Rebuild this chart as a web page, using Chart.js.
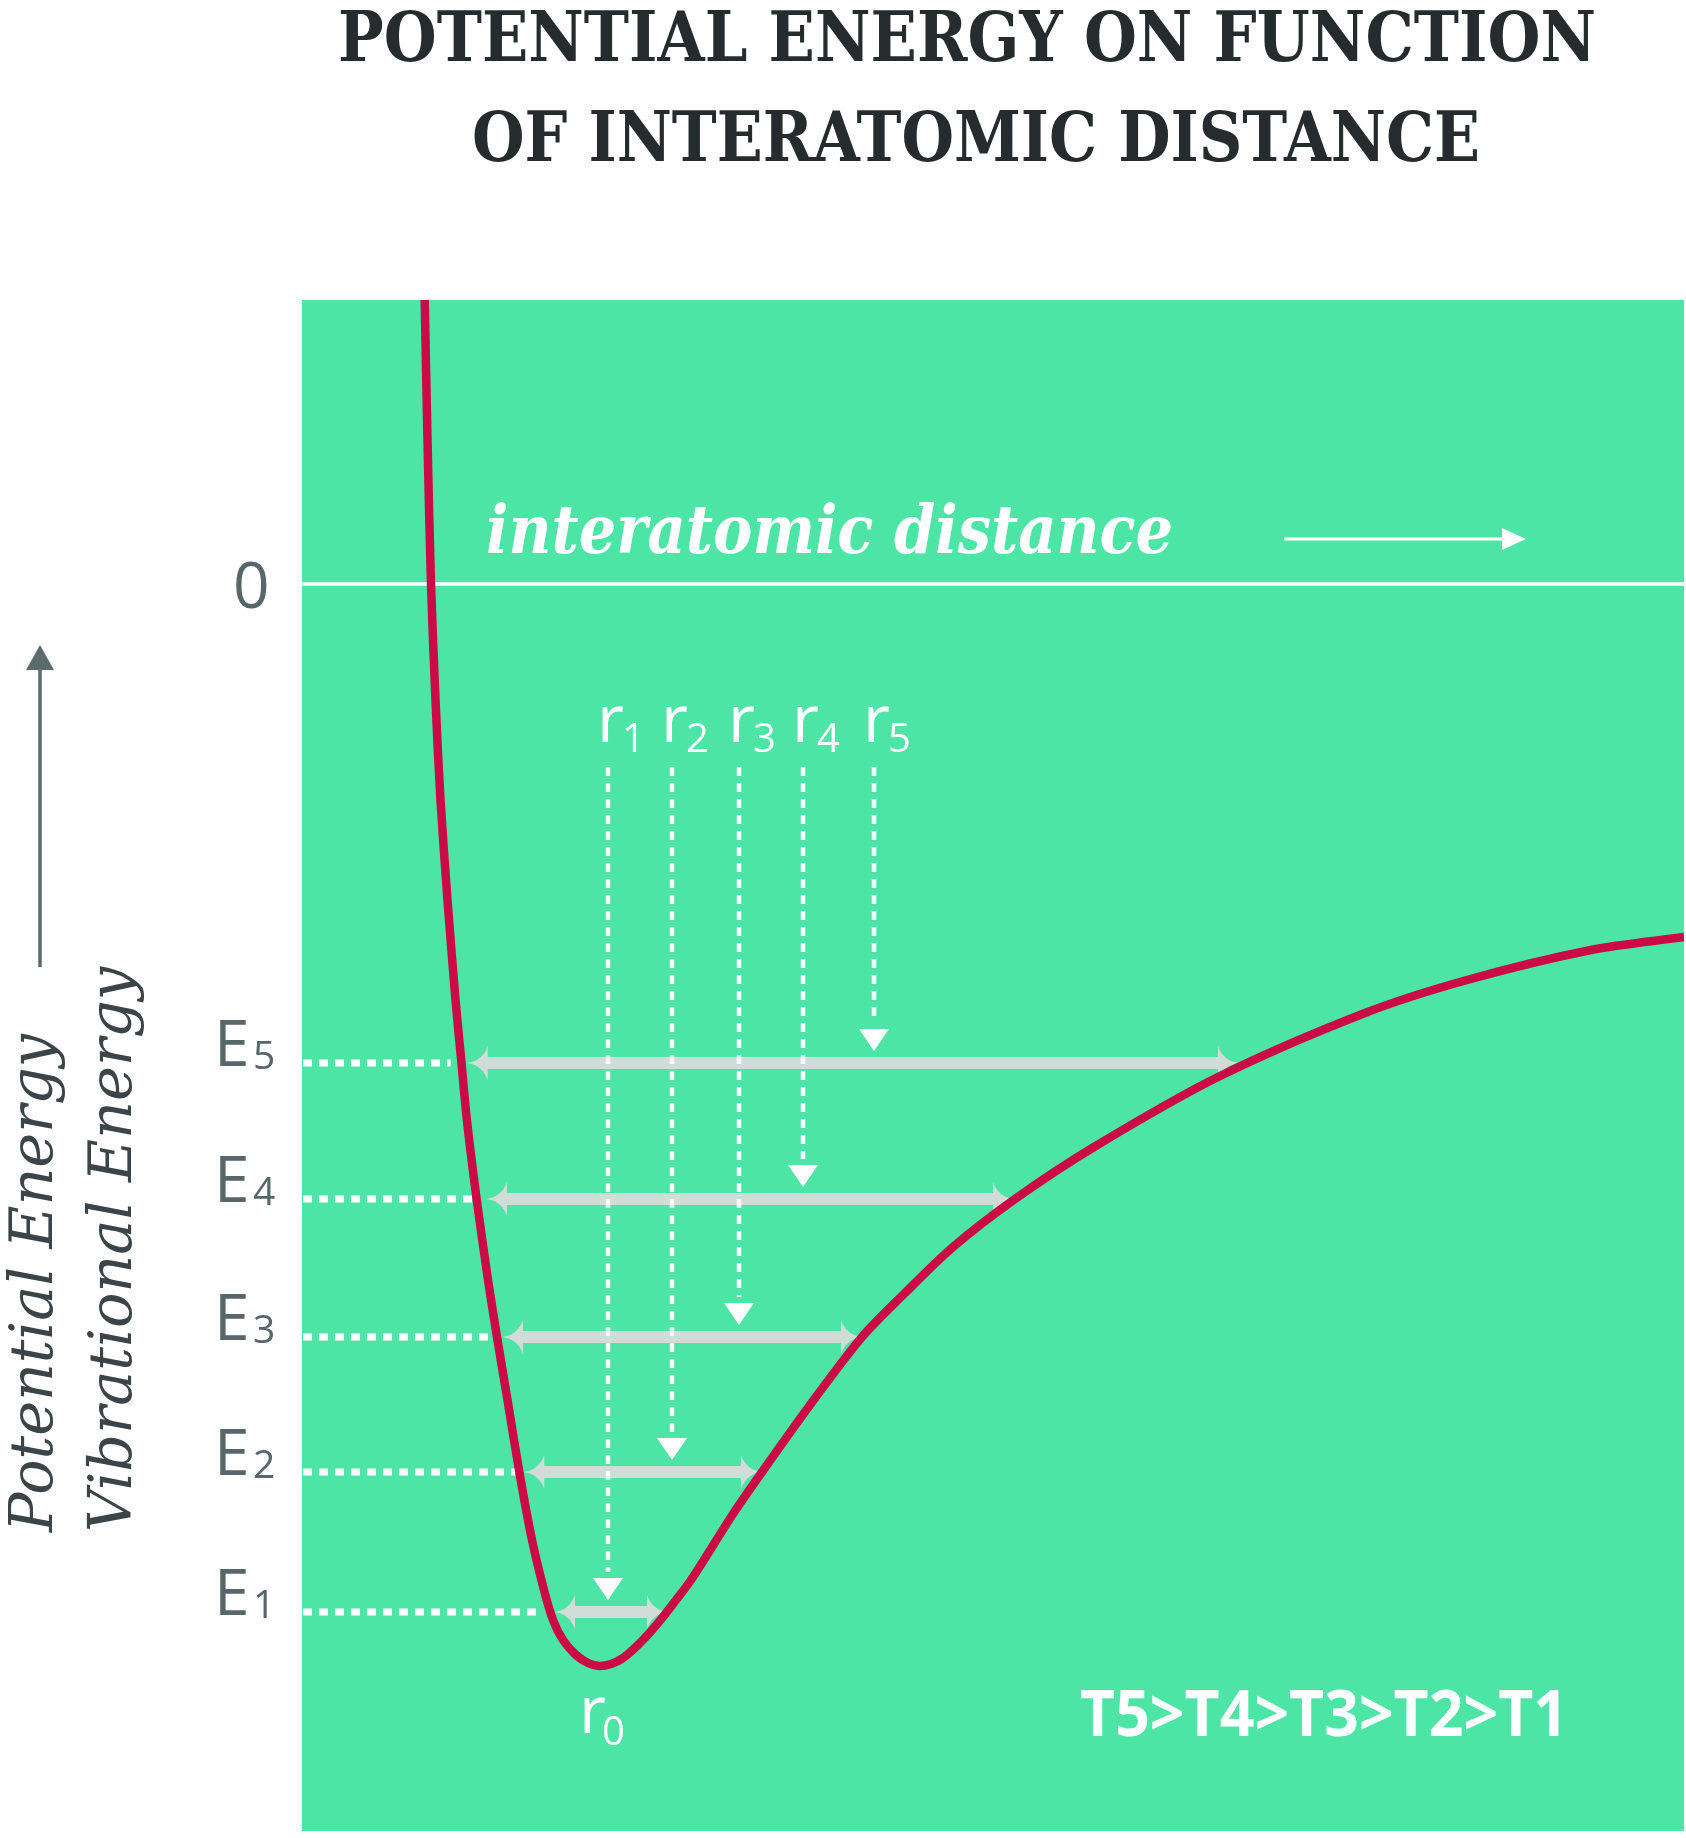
<!DOCTYPE html>
<html>
<head>
<meta charset="utf-8">
<script src="https://cdn.jsdelivr.net/npm/chart.js@4.4.0/dist/chart.umd.min.js"></script>
<style>
  html, body { margin: 0; padding: 0; background: #ffffff; }
  #chart { display: block; }
</style>
</head>
<body>
<canvas id="chart" width="1686" height="1838"></canvas>
<script>
// potential energy curve (distance / energy, arbitrary units)
const distance = [1.227, 1.255, 1.29, 1.335, 1.385, 1.455, 1.535, 1.595, 1.65, 1.745, 1.86, 1.95,
  2.055, 2.175, 2.30, 2.42, 2.51, 2.61, 2.74, 2.86, 2.97, 3.09, 3.21, 3.38, 3.56, 3.74, 3.89,
  4.31, 4.60, 5.08, 5.60, 6.03, 6.51, 7.13, 7.92, 9.16, 10.63, 11.65, 12.89, 13.82];
const energy = [2.84, 1.44, 0.00, -1.16, -2.16, -3.16, -4.16, -4.79, -5.37, -6.14, -6.96, -7.53,
  -8.16, -8.89, -9.56, -10.06, -10.36, -10.56, -10.71, -10.79, -10.82, -10.80, -10.74, -10.59, -10.39, -10.16, -9.96,
  -9.30, -8.88, -8.21, -7.53, -7.09, -6.63, -6.15, -5.63, -4.93, -4.29, -3.96, -3.66, -3.53];

// vibrational levels E1..E5
const levelNames = ['1', '2', '3', '4', '5'];
const levelEnergy = [-10.28, -8.88, -7.53, -6.15, -4.79];
const levelLeft = [2.52, 2.213, 2.00, 1.84, 1.647];
const levelRight = [3.66, 4.60, 5.60, 7.12, 9.37];
const guideEnd = [2.41, 2.13, 1.91, 1.71, 1.487];

// mean distances r1..r5 and equilibrium r0
const rNames = ['1', '2', '3', '4', '5'];
const rPos = [3.06, 3.70, 4.37, 5.01, 5.72];
const rTop = -1.83;
const r0Pos = 2.97;
const zeroEnergy = 0;

const GREEN = '#4ce5a6';
const RED = '#cc0a45';
const ARROW_GRAY = '#d1dbd8';
const LABEL_GRAY = '#56666a';

function grayArrowHead(ctx, tipX, y, dir) {
    // dir = 1: tip on the left, -1: tip on the right
    const L = 21, H = 17;
    ctx.beginPath();
    ctx.moveTo(tipX, y);
    ctx.quadraticCurveTo(tipX + dir * L * 0.75, y - H * 0.12, tipX + dir * L, y - H);
    ctx.lineTo(tipX + dir * L, y + H);
    ctx.quadraticCurveTo(tipX + dir * L * 0.75, y + H * 0.12, tipX, y);
    ctx.closePath();
    ctx.fill();
}

const decorPlugin = {
    id: 'decor',
    beforeDraw(chart) {
        const { ctx, chartArea: a } = chart;
        ctx.save();
        ctx.fillStyle = GREEN;
        ctx.fillRect(a.left, a.top, a.right - a.left, a.bottom - a.top);
        ctx.restore();
    },
    beforeDatasetsDraw(chart) {
        const { ctx, chartArea: a } = chart;
        const xs = chart.scales.x, ys = chart.scales.y;
        ctx.save();

        // zero line
        const y0 = ys.getPixelForValue(zeroEnergy);
        ctx.strokeStyle = '#ffffff';
        ctx.lineWidth = 3.5;
        ctx.beginPath();
        ctx.moveTo(a.left, y0);
        ctx.lineTo(a.right, y0);
        ctx.stroke();

        // dotted guides from the left edge to the curve
        ctx.setLineDash([9, 7]);
        ctx.lineWidth = 7;
        levelEnergy.forEach((e, i) => {
            const y = ys.getPixelForValue(e);
            ctx.beginPath();
            ctx.moveTo(a.left + 1, y);
            ctx.lineTo(xs.getPixelForValue(guideEnd[i]), y);
            ctx.stroke();
        });
        ctx.setLineDash([]);

        // gray double arrows between the turning points
        ctx.fillStyle = ARROW_GRAY;
        levelEnergy.forEach((e, i) => {
            const y = ys.getPixelForValue(e);
            const l = xs.getPixelForValue(levelLeft[i]);
            const r = xs.getPixelForValue(levelRight[i]);
            ctx.fillRect(l + 19, y - 6, r - l - 38, 12);
            grayArrowHead(ctx, l, y, 1);
            grayArrowHead(ctx, r, y, -1);
        });

        // dashed drop lines r1..r5 with white triangles
        ctx.strokeStyle = '#ffffff';
        ctx.fillStyle = '#ffffff';
        rPos.forEach((r, i) => {
            const x = xs.getPixelForValue(r);
            const yLevel = ys.getPixelForValue(levelEnergy[i]);
            const tip = yLevel - 12;
            ctx.setLineDash([9, 7]);
            ctx.lineWidth = 4.5;
            ctx.beginPath();
            ctx.moveTo(x, ys.getPixelForValue(rTop));
            ctx.lineTo(x, tip - 28);
            ctx.stroke();
            ctx.setLineDash([]);
            ctx.beginPath();
            ctx.moveTo(x - 15, tip - 22);
            ctx.lineTo(x + 15, tip - 22);
            ctx.lineTo(x, tip);
            ctx.closePath();
            ctx.fill();
        });

        // r labels
        ctx.textAlign = 'left';
        ctx.textBaseline = 'alphabetic';
        rPos.forEach((r, i) => {
            const x = xs.getPixelForValue(r);
            ctx.font = '66px "Open Sans"';
            ctx.fillText('r', x - 11, 742);
            ctx.font = '40px "Open Sans"';
            ctx.fillText(rNames[i], x + 14, 752);
        });
        const x0 = xs.getPixelForValue(r0Pos);
        ctx.font = '66px "Open Sans"';
        ctx.fillText('r', x0 - 20, 1733);
        ctx.font = '40px "Open Sans"';
        ctx.fillText('0', x0 + 3, 1745);

        // axis caption inside the plot
        ctx.font = 'bold italic 68px "DejaVu Serif"';
        ctx.fillText('interatomic distance', 486, 553, 687);
        ctx.strokeStyle = '#ffffff';
        ctx.lineWidth = 3;
        ctx.beginPath();
        ctx.moveTo(1284, 539);
        ctx.lineTo(1505, 539);
        ctx.stroke();
        ctx.beginPath();
        ctx.moveTo(1526, 539);
        ctx.lineTo(1502, 528);
        ctx.lineTo(1502, 550);
        ctx.closePath();
        ctx.fill();

        // temperature order
        ctx.font = 'bold 64px "Open Sans"';
        ctx.fillText('T5>T4>T3>T2>T1', 1080, 1736, 488);
        ctx.restore();
    },
    afterDraw(chart) {
        const { ctx } = chart;
        const ys = chart.scales.y;
        ctx.save();

        // title
        ctx.fillStyle = '#262c2e';
        ctx.textAlign = 'center';
        ctx.font = 'bold 70px "DejaVu Serif"';
        ctx.fillText('POTENTIAL ENERGY ON FUNCTION', 967, 61, 1258);
        ctx.fillText('OF INTERATOMIC DISTANCE', 976, 161, 1008);

        // level labels
        ctx.fillStyle = LABEL_GRAY;
        ctx.textAlign = 'left';
        ctx.font = '64px "Open Sans"';
        ctx.fillText('0', 233, ys.getPixelForValue(zeroEnergy) + 24);
        levelEnergy.forEach((e, i) => {
            const y = ys.getPixelForValue(e);
            ctx.font = '64px "Open Sans"';
            ctx.fillText('E', 214, y + 3);
            ctx.font = '39px "Open Sans"';
            ctx.fillText(levelNames[i], 253, y + 6);
        });

        // vertical axis title and arrow
        ctx.fillStyle = '#3b4548';
        ctx.font = 'italic 60px "DejaVu Serif"';
        ctx.save();
        ctx.translate(52, 1532);
        ctx.rotate(-Math.PI / 2);
        ctx.fillText('Potential Energy', 0, 0, 498);
        ctx.restore();
        ctx.save();
        ctx.translate(131, 1532);
        ctx.rotate(-Math.PI / 2);
        ctx.fillText('Vibrational Energy', 0, 0, 565);
        ctx.restore();

        ctx.strokeStyle = '#5b6a6c';
        ctx.fillStyle = '#5b6a6c';
        ctx.lineWidth = 3.5;
        ctx.beginPath();
        ctx.moveTo(40, 967);
        ctx.lineTo(40, 668);
        ctx.stroke();
        ctx.beginPath();
        ctx.moveTo(40, 645);
        ctx.lineTo(26, 670);
        ctx.lineTo(54, 670);
        ctx.closePath();
        ctx.fill();
        ctx.restore();
    }
};

new Chart(document.getElementById('chart'), {
    type: 'scatter',
    data: {
        datasets: [{
            label: 'Potential energy',
            data: distance.map((d, i) => ({ x: d, y: energy[i] })),
            showLine: true,
            borderColor: RED,
            borderWidth: 8.5,
            pointRadius: 0,
            tension: 0.3,
            fill: false
        }]
    },
    options: {
        responsive: false,
        animation: false,
        devicePixelRatio: 1,
        layout: { padding: { left: 302, top: 300, right: 2, bottom: 7 } },
        plugins: {
            legend: { display: false },
            tooltip: { enabled: false }
        },
        scales: {
            x: { type: 'linear', min: 0, max: 13.82, display: false },
            y: { type: 'linear', min: -12.47, max: 2.84, display: false }
        }
    },
    plugins: [decorPlugin]
});
</script>
</body>
</html>
